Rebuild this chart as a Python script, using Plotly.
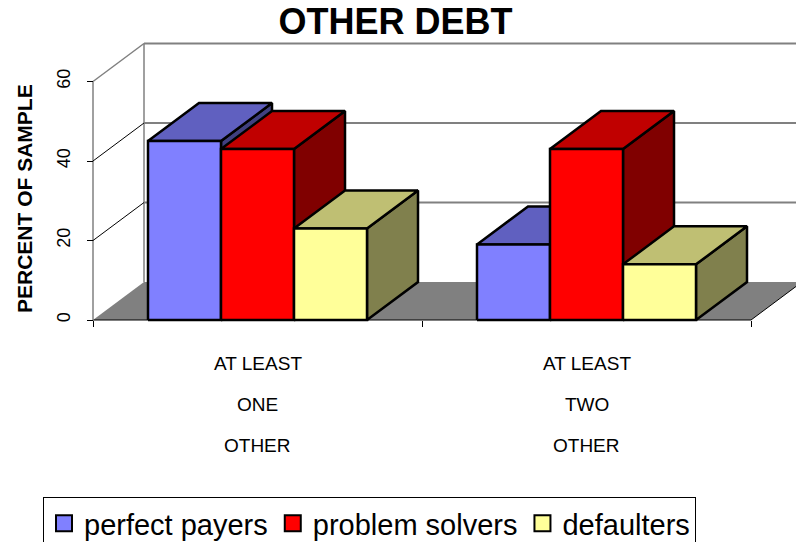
import plotly.graph_objects as go

# data
cat_lines = [["AT LEAST", "ONE", "OTHER"], ["AT LEAST", "TWO", "OTHER"]]
series_names = ["perfect payers", "problem solvers", "defaulters"]
perfect_payers = [45, 19]
problem_solvers = [43, 43]
defaulters = [23, 14]
y_ticks = [0, 20, 40, 60]

series_values = [perfect_payers, problem_solvers, defaulters]
front_cols = ["#8080FF", "#FF0000", "#FFFF99"]
top_cols = ["#6060C0", "#C00000", "#BFBF73"]
side_cols = ["#404080", "#800000", "#80804D"]

FONT = "Liberation Sans, Arial, sans-serif"

# page geometry (px)
W, H = 796, 542
L, R, T, B = 89, 0, 40, 218
px_x = 329.0      # px per category unit
px_y = 3.975      # px per percent
x0_rng = -0.5 - 4 / px_x
x1_rng = x0_rng + (W - L - R) / px_x
y0_rng = -4 / px_y
y1_rng = y0_rng + (H - T - B) / px_y
plot_w = W - L - R
plot_h = H - T - B

DX = 51 / px_x    # depth offset
DY = 38 / px_y
BW = 73 / px_x    # bar width
ymax = y_ticks[-1]
xl, xr = -0.5, len(cat_lines) - 0.5


def py(p):
    return (H - B - p) / plot_h


def px(p):
    return (p - L) / plot_w


fig = go.Figure()


def poly(xs, ys, fill, line_col="black", lw=2.5):
    fig.add_trace(go.Scatter(
        x=xs + [xs[0]], y=ys + [ys[0]], mode="lines", fill="toself",
        fillcolor=fill, line=dict(color=line_col, width=lw),
        showlegend=False, hoverinfo="skip"))


def seg(xs, ys, col, lw=1):
    fig.add_trace(go.Scatter(
        x=xs, y=ys, mode="lines", line=dict(color=col, width=lw),
        showlegend=False, hoverinfo="skip"))


# floor
fig.add_trace(go.Scatter(
    x=[xl, xr, xr + DX, xl + DX, xl], y=[0, 0, DY, DY, 0], mode="lines",
    fill="toself", fillcolor="#808080", line=dict(width=0),
    showlegend=False, hoverinfo="skip"))
seg([xl, xr, xr + DX], [0, 0, DY], "black", 1)

# walls and gridlines
seg([xl, xl], [0, ymax], "#808080", 1.5)
seg([xl + DX, xl + DX], [DY, ymax + DY], "#808080", 1.5)
for v in y_ticks[1:]:
    col = "#808080" if v == ymax else "black"
    seg([xl, xl + DX], [v, v + DY], col, 1.5 if v == ymax else 1)
    seg([xl + DX, x1_rng + 1], [v + DY, v + DY], "#808080", 2)

# bars as boxes, painted left to right
for ci in range(len(cat_lines)):
    for si, vals in enumerate(series_values):
        v = vals[ci]
        a = ci - 1.5 * BW + si * BW
        b = a + BW
        poly([b, b + DX, b + DX, b], [0, DY, v + DY, v], side_cols[si])
        poly([a, b, b + DX, a + DX], [v, v, v + DY, v + DY], top_cols[si])
        poly([a, b, b, a], [0, 0, v, v], front_cols[si])

# legend entries
for si, name in enumerate(series_names):
    fig.add_trace(go.Scatter(
        x=[None], y=[None], mode="markers", name=name,
        marker=dict(symbol="square", size=16, color=front_cols[si],
                    line=dict(color="black", width=2))))

# category labels
cat_y = [363.5, 404, 445]
for ci, lines in enumerate(cat_lines):
    for li, txt in enumerate(lines):
        fig.add_annotation(x=ci, xref="x", y=py(cat_y[li]), yref="paper",
                           text=txt, showarrow=False, xanchor="center",
                           yanchor="middle",
                           font=dict(family=FONT, size=19, color="black"))

fig.add_annotation(x=px(24), xref="paper", y=py(199), yref="paper",
                   text="PERCENT OF SAMPLE", textangle=-90, showarrow=False,
                   xanchor="center", yanchor="middle",
                   font=dict(family=FONT, size=21, color="black", weight="bold"))

fig.update_layout(
    width=W, height=H,
    margin=dict(l=L, r=R, t=T, b=B, autoexpand=False),
    paper_bgcolor="white", plot_bgcolor="white",
    font=dict(family=FONT, color="black"),
    title=dict(text="OTHER DEBT", x=395.5 / W, xref="container", xanchor="center",
               y=1 - 21 / H, yref="container", yanchor="middle",
               font=dict(family=FONT, size=36, color="black", weight="bold")),
    xaxis=dict(range=[x0_rng, x1_rng], showgrid=False, zeroline=False,
               showline=False, tickvals=[xl, 0.5, xr], ticks="outside",
               ticklen=6, tickcolor="black", tickwidth=1,
               showticklabels=False, anchor="free", position=4 / plot_h),
    yaxis=dict(range=[y0_rng, y1_rng], showgrid=False, zeroline=False,
               showline=False, tickvals=y_ticks, ticks="outside", ticklen=6,
               tickcolor="black", tickwidth=1, tickangle=-90,
               tickfont=dict(family=FONT, size=18, color="black"),
               ticklabelstandoff=10, anchor="free",
               position=4 / plot_w),
    legend=dict(orientation="h", x=px(43), xanchor="left",
                y=py(497), yanchor="top", bgcolor="white",
                bordercolor="black", borderwidth=1,
                font=dict(family=FONT, size=29, color="black")),
    showlegend=True,
)

fig.write_html("out.html", config={"displayModeBar": False},
               post_script="document.body.style.margin='0';")
